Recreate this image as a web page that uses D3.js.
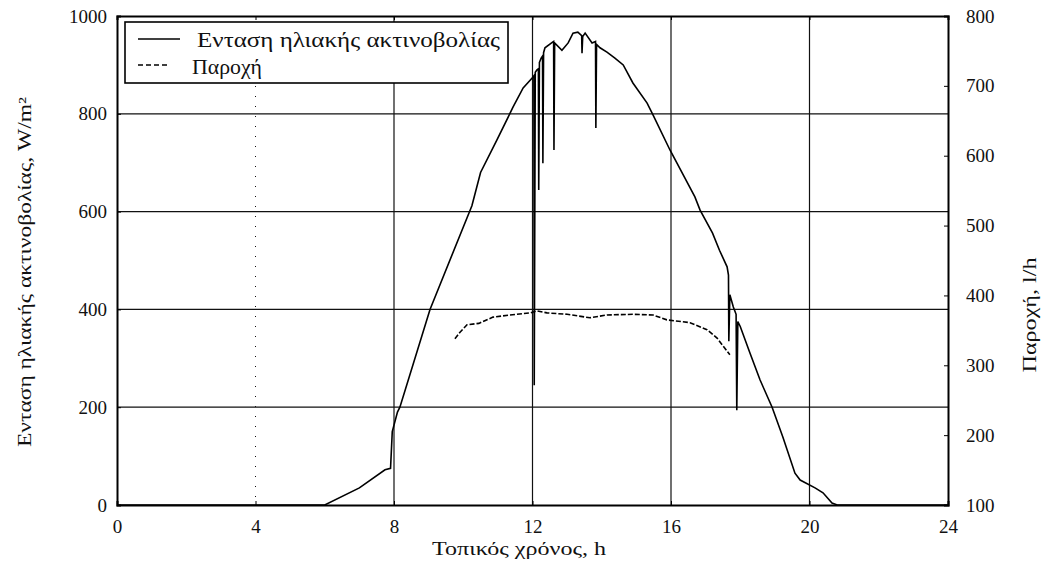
<!DOCTYPE html>
<html><head><meta charset="utf-8">
<script src="https://cdn.jsdelivr.net/npm/d3@7"></script>
<style>
html,body{margin:0;padding:0;background:#fff;}
text{font-family:"Liberation Serif","DejaVu Serif","Times New Roman",serif;fill:#111;}
</style></head>
<body><svg id="c" width="1053" height="585"></svg>
<script>
// ---- data ----
const irrHours = [0,6.0,7.0,7.74,7.9,7.95,8.1,8.17,9.04,10.25,10.5,10.97,11.44,11.73,11.99,12.04,12.05,12.08,12.13,12.17,12.18,12.2,12.25,12.29,12.3,12.32,12.36,12.59,12.61,12.62,12.64,12.85,13.03,13.17,13.31,13.42,13.43,13.45,13.52,13.72,13.82,13.83,13.85,13.95,14.15,14.38,14.62,14.9,15.31,15.48,15.97,16.69,16.84,17.2,17.4,17.62,17.66,17.67,17.7,17.8,17.88,17.9,17.93,18.0,18.28,18.57,18.92,19.23,19.58,19.73,20.16,20.39,20.65,20.8,24];
const irrValues = [0,0,35,72,75,150,190,200,400,612,680,746,814,853,873,878,245,885,890,892,644,905,914,918,699,925,935,947,948,726,945,930,945,965,967,960,924,958,965,945,948,771,942,935,926,914,900,863,822,798,726,630,603,556,521,487,470,335,430,405,390,194,375,365,311,256,200,139,65,51,35,25,4,0,0];
const prodHours = [9.76,9.9,10.11,10.45,10.86,11.35,11.93,12.13,12.42,13.0,13.66,14.15,14.9,15.48,15.88,16.55,17.04,17.33,17.7];
const prodValues = [338,347,358,360,369,372,375,378,375,373,368,372,373,372,365,361,351,339,315];
const xTicks = [0,4,8,12,16,20,24];
const yLeftTicks = [0,200,400,600,800,1000];
const yRightTicks = [100,200,300,400,500,600,700,800];
const xGrid = [4,8,12,16,20];
const yGrid = [200,400,600,800];
const legendLabels = ["Ενταση ηλιακής ακτινοβολίας","Παροχή"];
const xTitle = "Τοπικός χρόνος, h";
const yLeftTitle = "Ενταση ηλιακής ακτινοβολίας, W/m²";
const yRightTitle = "Παροχή, l/h";

// ---- layout ----
const L = 117, R = 948, T = 16, B = 505;
const svg = d3.select("#c");
const x = d3.scaleLinear().domain([0,24]).range([L,R]);
const yL = d3.scaleLinear().domain([0,1000]).range([B,T]);
const yR = d3.scaleLinear().domain([100,800]).range([B,T]);

// grid
const g = svg.append("g");
g.selectAll(".vg").data(xGrid).join("line")
  .attr("x1",d=>x(d)).attr("x2",d=>x(d)).attr("y1",T).attr("y2",B)
  .attr("stroke","#111").attr("stroke-width",d=>d===4?1:1.2)
  .attr("stroke-dasharray",d=>d===4?"1,9":null);
g.selectAll(".hg").data(yGrid).join("line")
  .attr("x1",L).attr("x2",R).attr("y1",d=>yL(d)).attr("y2",d=>yL(d))
  .attr("stroke","#111").attr("stroke-width",1.2);

// lines
const irrData = irrHours.map((h,i)=>[h,irrValues[i]]);
const prodData = prodHours.map((h,i)=>[h,prodValues[i]]);
svg.append("path").datum(irrData)
  .attr("d",d3.line().x(d=>x(d[0])).y(d=>yL(d[1])))
  .attr("fill","none").attr("stroke","#000").attr("stroke-width",1.6);
svg.append("path").datum(prodData)
  .attr("d",d3.line().x(d=>x(d[0])).y(d=>yR(d[1])))
  .attr("fill","none").attr("stroke","#000").attr("stroke-width",1.6)
  .attr("stroke-dasharray","5,2");

// axes
const ax = svg.append("g");
ax.append("g").attr("transform",`translate(0,${B})`)
  .call(d3.axisBottom(x).tickValues(xTicks).tickSize(-4).tickPadding(15).tickFormat(d3.format("d")));
ax.append("g").attr("transform",`translate(${L},0)`)
  .call(d3.axisLeft(yL).tickValues(yLeftTicks).tickSize(-4).tickPadding(10).tickFormat(d3.format("d")));
ax.append("g").attr("transform",`translate(${R},0)`)
  .call(d3.axisRight(yR).tickValues(yRightTicks).tickSize(-4).tickPadding(18).tickFormat(d3.format("d")));
ax.append("g").attr("transform",`translate(0,${T})`)
  .call(d3.axisTop(x).tickValues(xTicks).tickSize(-4).tickFormat(""));
ax.selectAll(".domain").attr("stroke","#000").attr("stroke-width",2);
ax.selectAll(".tick line").attr("stroke","#000");
ax.selectAll(".tick text").attr("font-family","Liberation Serif, DejaVu Serif, serif").attr("font-size",19).attr("fill","#111");

// legend
const lg = svg.append("g");
lg.append("rect").attr("x",125).attr("y",22).attr("width",383).attr("height",61)
  .attr("fill","#fff").attr("stroke","#000").attr("stroke-width",1.6);
lg.append("line").attr("x1",138).attr("x2",180).attr("y1",39).attr("y2",39)
  .attr("stroke","#000").attr("stroke-width",1.6);
lg.append("line").attr("x1",138).attr("x2",170).attr("y1",65).attr("y2",65)
  .attr("stroke","#000").attr("stroke-width",1.6).attr("stroke-dasharray","5,3");
lg.append("text").attr("x",197).attr("y",47).attr("font-size",20)
  .attr("textLength",303).attr("lengthAdjust","spacingAndGlyphs").text(legendLabels[0]);
lg.append("text").attr("x",192).attr("y",74).attr("font-size",20)
  .attr("textLength",70).attr("lengthAdjust","spacingAndGlyphs").text(legendLabels[1]);

// titles
svg.append("text").attr("x",519).attr("y",555).attr("text-anchor","middle")
  .attr("font-size",18).attr("textLength",174).attr("lengthAdjust","spacingAndGlyphs").text(xTitle);
svg.append("text").attr("transform","translate(31,272) rotate(-90)").attr("text-anchor","middle")
  .attr("font-size",18).attr("textLength",350).attr("lengthAdjust","spacingAndGlyphs").text(yLeftTitle);
svg.append("text").attr("transform","translate(1036,315) rotate(-90)").attr("text-anchor","middle")
  .attr("font-size",18).attr("textLength",115).attr("lengthAdjust","spacingAndGlyphs").text(yRightTitle);
</script></body></html>
